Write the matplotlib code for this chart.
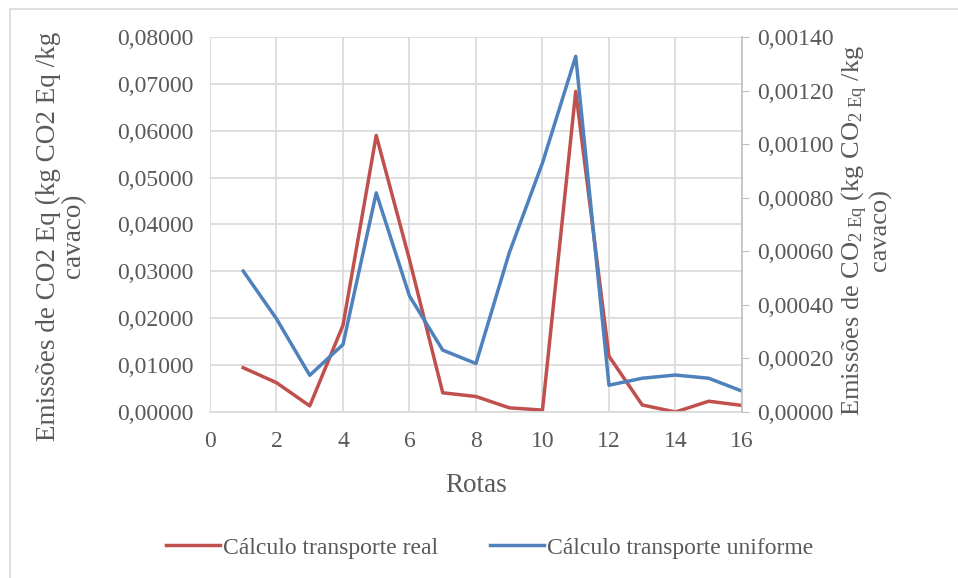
import matplotlib
matplotlib.use("Agg")
import matplotlib.pyplot as plt
from matplotlib.lines import Line2D
from matplotlib.ticker import FuncFormatter, MultipleLocator

plt.rcParams.update({
    "font.family": "Liberation Serif",
    "mathtext.fontset": "custom",
    "mathtext.rm": "Liberation Serif",
    "mathtext.it": "Liberation Serif:italic",
    "font.size": 17,
    "text.color": "#595959",
    "axes.labelcolor": "#595959",
    "xtick.color": "#595959",
    "ytick.color": "#595959",
})

rotas = [1, 2, 3, 4, 5, 6, 7, 8, 9, 10, 11, 12, 13, 14, 15, 16]
real = [0.00945, 0.00625, 0.0013, 0.0185, 0.0590, 0.0325, 0.0041, 0.0033,
        0.0009, 0.0004, 0.0684, 0.0119, 0.0015, 0.0000, 0.0023, 0.0014]
uniforme = [0.000526, 0.000348, 0.000137, 0.000252, 0.000818, 0.000433,
            0.000231, 0.000181, 0.000594, 0.000930, 0.001328, 0.000100,
            0.000126, 0.000138, 0.000126, 0.000078]

grid_c = "#d9d9d9"
red = "#c0504d"
blue = "#4f81bd"

fig = plt.figure(figsize=(9.58, 5.78), dpi=100)
# chart border (only top and left edges visible)
fig.lines.append(Line2D([9.5 / 958, 9.5 / 958, 1.0], [0.0, 1 - 8.5 / 578, 1 - 8.5 / 578],
                        transform=fig.transFigure, color=grid_c, linewidth=1.2))

ax = fig.add_axes([0.2192, 0.2872, 0.5553, 0.6488])
ax2 = ax.twinx()

ax.set_xlim(0, 16)
ax.set_ylim(0, 0.08)
ax2.set_ylim(0, 0.0014)
ax.xaxis.set_major_locator(MultipleLocator(2))
ax.yaxis.set_major_locator(MultipleLocator(0.01))
ax2.yaxis.set_major_locator(MultipleLocator(0.0002))

fmt = FuncFormatter(lambda v, p: f"{v:.5f}".replace(".", ","))
ax.yaxis.set_major_formatter(fmt)
ax2.yaxis.set_major_formatter(fmt)

ax.grid(True, color=grid_c, linewidth=1.2)
ax.set_axisbelow(True)
for s in ["top", "left", "right"]:
    ax.spines[s].set_visible(False)
    ax2.spines[s].set_visible(False)
ax.spines["bottom"].set_color(grid_c)
ax.spines["bottom"].set_linewidth(1.2)
ax2.spines["bottom"].set_visible(False)
ax2.spines["right"].set_visible(True)
ax2.spines["right"].set_color("#bfbfbf")
ax2.spines["right"].set_linewidth(1.2)

ax.tick_params(axis="y", length=0, pad=12)
ax.tick_params(axis="x", length=0, pad=13.5)
ax2.tick_params(axis="y", length=5, color="#bfbfbf", pad=6)

l1, = ax.plot(rotas, real, color=red, linewidth=2.5, label="Cálculo transporte real")
l2, = ax2.plot(rotas, uniforme, color=blue, linewidth=2.5, label="Cálculo transporte uniforme")

ax.set_xlabel("Rotas", fontsize=19.5, labelpad=15)
fig.text(61 / 958, 1 - 236 / 578, "Emissões de CO2 Eq (kg CO2 Eq /kg\ncavaco)",
         rotation=90, ha="center", va="center", fontsize=19.5, linespacing=0.97,
         color="#595959")
fig.text(866 / 958, 1 - 230 / 578,
         "Emissões de CO$_{\\mathrm{2\\ Eq}}$ (kg CO$_{\\mathrm{2\\ Eq}}$ /kg\ncavaco)",
         rotation=90, ha="center", va="center", fontsize=19, linespacing=0.97,
         color="#595959")

fig.legend(handles=[l1, l2], loc="center", bbox_to_anchor=(0.511, 0.052), ncol=2,
           frameon=False, handlelength=2.3, handletextpad=0.12, columnspacing=2.2)

fig.savefig("out.png", dpi=100)
